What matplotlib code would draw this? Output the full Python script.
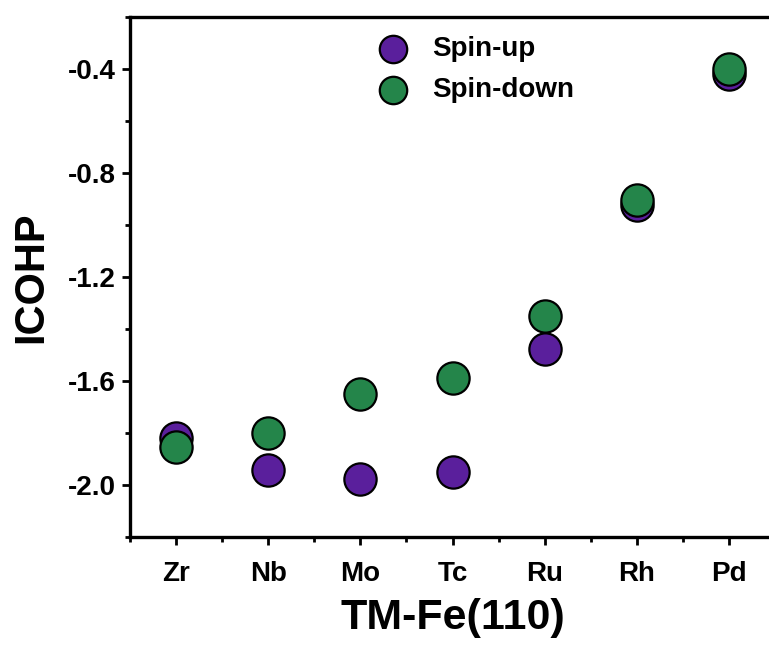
import matplotlib
matplotlib.use('Agg')
import numpy as np
import matplotlib.pyplot as plt
from matplotlib.ticker import MultipleLocator

plt.rcParams['font.family'] = ['Liberation Sans', 'DejaVu Sans']
plt.rcParams['font.weight'] = 'bold'

# данные
metals = ['Zr', 'Nb', 'Mo', 'Tc', 'Ru', 'Rh', 'Pd']
spin_up = [-1.82, -1.94, -1.975, -1.95, -1.475, -0.925, -0.42]
spin_down = [-1.855, -1.80, -1.65, -1.59, -1.35, -0.905, -0.40]

purple = '#5a1f9c'
green = '#24854a'

fig = plt.figure(figsize=(7.69, 6.48), dpi=100)
ax = fig.add_axes([0.169, 0.171, 0.839, 0.803])

x = np.arange(len(metals))
ax.scatter(x, spin_up, s=540, c=purple, edgecolors='black', linewidths=1.6,
           label='Spin-up', zorder=3, clip_on=False)
ax.scatter(x, spin_down, s=540, c=green, edgecolors='black', linewidths=1.6,
           label='Spin-down', zorder=4, clip_on=False)

ax.set_xlim(-0.5, 6.5)
ax.set_ylim(-2.2, -0.2)
ax.set_xticks(x)
ax.set_xticklabels(metals)
ax.xaxis.set_minor_locator(MultipleLocator(0.5))
ax.yaxis.set_minor_locator(MultipleLocator(0.2))
ax.set_yticks([-2.0, -1.6, -1.2, -0.8, -0.4])
ax.set_yticklabels(['-2.0', '-1.6', '-1.2', '-0.8', '-0.4'])

for sp in ax.spines.values():
    sp.set_linewidth(2.4)

ax.tick_params(axis='both', which='major', direction='out', length=6, width=2,
               labelsize=20, pad=4)
ax.tick_params(axis='both', which='minor', direction='out', length=3.5, width=2)
ax.tick_params(axis='x', which='major', pad=11)

ax.set_xlabel('TM-Fe(110)', fontsize=31, fontweight='bold', labelpad=8)
ax.set_ylabel('ICOHP', fontsize=30, fontweight='bold', labelpad=12)

leg = ax.legend(loc='upper left', bbox_to_anchor=(0.471, 0.970),
                bbox_transform=fig.transFigure, frameon=False, fontsize=20,
                handletextpad=0.9, labelspacing=0.55, markerscale=0.85,
                borderpad=0.1, handlelength=1.0)

fig.savefig('out.png', dpi=100)
